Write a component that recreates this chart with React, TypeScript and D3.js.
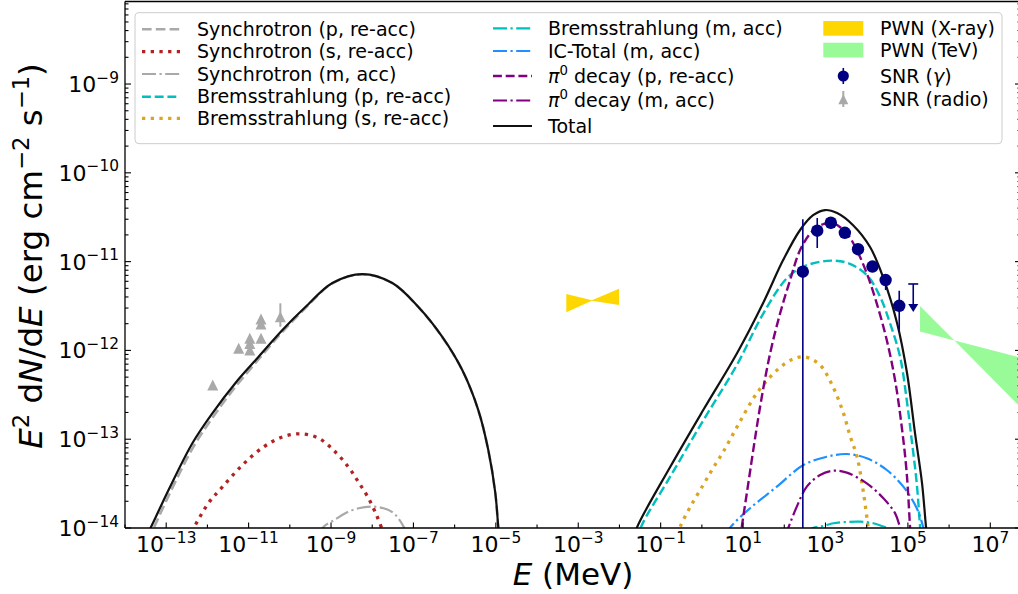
import React from "react";
import * as d3 from "d3";

type Pt = [number, number];

// ---------------- axis ticks ----------------
const xTickExps = [-13, -11, -9, -7, -5, -3, -1, 1, 3, 5, 7];
const xMinorExps = [-14, -12, -10, -8, -6, -4, -2, 0, 2, 4, 6];
const yTickExps = [-14, -13, -12, -11, -10, -9];

// ---------------- model curves: [E (MeV), E^2 dN/dE (erg cm^-2 s^-1)] ----------------
const syncP: Pt[] = [
  [2.55e-14, 5.4e-15], [4.16e-14, 8.4e-15], [1.14e-13, 2.3e-14], [4.35e-13, 7.9e-14],
  [1.33e-12, 1.75e-13], [4.8e-12, 3.9e-13], [1.73e-11, 7.9e-13], [6.62e-11, 1.62e-12],
  [2.39e-10, 3.0e-12], [1.08e-9, 5.7e-12], [5.77e-9, 7.2e-12], [3.08e-8, 5.72e-12],
  [1.32e-7, 3.07e-12], [5.02e-7, 1.41e-12], [1.53e-6, 6.0e-13], [3.75e-6, 2.12e-13],
  [6.56e-6, 7.5e-14], [9.7e-6, 2.45e-14], [1.15e-5, 9.8e-15], [1.25e-5, 6.4e-15],
];
const syncS: Pt[] = [
  [4.1e-13, 9.0e-15], [1.06e-12, 1.91e-14], [2.32e-12, 2.9e-14], [7.08e-12, 5.12e-14],
  [2.29e-11, 8.17e-14], [6.62e-11, 1.06e-13], [1.81e-10, 1.15e-13], [4.94e-10, 1.03e-13],
  [1.28e-9, 7.18e-14], [2.64e-9, 4.86e-14], [4.61e-9, 3.3e-14], [8.05e-9, 2.18e-14],
  [1.33e-8, 1.33e-14], [1.76e-8, 9.5e-15],
];
const syncM: Pt[] = [
  [5.22e-10, 8.55e-15], [6.64e-10, 1.035e-14], [1.28e-9, 1.25e-14], [2.23e-9, 1.47e-14],
  [4.69e-9, 1.67e-14], [9.91e-9, 1.74e-14], [1.89e-8, 1.67e-14], [3.31e-8, 1.47e-14],
  [5.79e-8, 1.035e-14], [6.73e-8, 8.55e-15],
];
const bremsP: Pt[] = [
  [2.7e-2, 7.33e-15], [3.51e-2, 1.08e-14], [0.17, 3.78e-14], [1.094, 1.64e-13],
  [7.06, 6.85e-13], [31.2, 2.62e-12], [115.3, 6.49e-12], [291, 8.77e-12],
  [1076, 1.02e-11], [3289, 9.73e-12], [10050, 7.06e-12], [21130, 4.03e-12],
  [36900, 2.02e-12], [64570, 8.49e-13], [93760, 2.76e-13], [123900, 9.79e-14],
  [164100, 3.18e-14], [197200, 1.035e-14], [208400, 7.33e-15],
];
const bremsS: Pt[] = [
  [0.266, 8.34e-15], [0.298, 1.03e-14], [0.52, 1.72e-14], [1.076, 3.05e-14],
  [1.879, 4.74e-14], [3.289, 7.18e-14], [7.59, 1.45e-13], [21.8, 3.31e-13],
  [67.0, 6.01e-13], [163.7, 8.0e-13], [319.9, 8.43e-13], [739.6, 6.85e-13],
  [1528, 3.87e-13], [2673, 2.02e-13], [3954, 1.09e-13], [5848, 6.31e-14],
  [8166, 2.68e-14], [10810, 1.03e-14], [11430, 8.34e-15],
];
const bremsM: Pt[] = [
  [319.9, 8.79e-15], [509.3, 1.007e-14], [889.2, 1.054e-14], [1556, 1.13e-14],
  [3289, 1.17e-14], [6902, 1.18e-14], [14520, 1.13e-14], [23230, 1.054e-14],
  [30690, 1.007e-14], [43650, 8.79e-15],
];
const icTotal: Pt[] = [
  [3.88, 8.34e-15], [4.85, 1.01e-14], [14.8, 1.67e-14], [65.9, 2.92e-14],
  [291, 5.12e-14], [1076, 6.35e-14], [3289, 6.81e-14], [10050, 6.1e-14],
  [30690, 4.5e-14], [77620, 2.92e-14], [164100, 1.67e-14], [237100, 1.01e-14],
  [260600, 8.34e-15],
];
const pi0P: Pt[] = [
  [8.49, 7.33e-15], [9.33, 1.035e-14], [12.33, 2.46e-14], [25.9, 2.32e-13],
  [45.4, 9.27e-13], [79.4, 2.62e-12], [138.7, 6.21e-12], [242, 1.35e-11],
  [466, 2.17e-11], [889, 2.65e-11], [1556, 2.7e-11], [3289, 2.08e-11],
  [5741, 1.35e-11], [10050, 7.38e-12], [17540, 3.39e-12], [30690, 1.31e-12],
  [48750, 4.65e-13], [70960, 1.38e-13], [93760, 4.13e-14], [112700, 1.035e-14],
  [119100, 7.33e-15],
];
const pi0M: Pt[] = [
  [104.7, 7.92e-15], [125.9, 1.01e-14], [201.4, 1.74e-14], [352.4, 2.92e-14],
  [739.6, 3.95e-14], [1556, 4.42e-14], [3289, 4.2e-14], [10050, 3.18e-14],
  [25410, 2.16e-14], [48750, 1.47e-14], [64570, 1.01e-14], [72110, 7.92e-15],
];
const totalLow: Pt[] = [
  [2.55e-14, 6.5e-15], [4.16e-14, 1.0e-14], [1.14e-13, 2.68e-14], [4.35e-13, 9.06e-14],
  [1.33e-12, 1.97e-13], [4.8e-12, 4.3e-13], [1.73e-11, 8.43e-13], [6.62e-11, 1.7e-12],
  [2.39e-10, 3.08e-12], [1.08e-9, 5.74e-12], [5.77e-9, 7.24e-12], [3.08e-8, 5.74e-12],
  [1.32e-7, 3.08e-12], [5.02e-7, 1.42e-12], [1.53e-6, 6.01e-13], [3.75e-6, 2.13e-13],
  [6.56e-6, 7.55e-14], [9.7e-6, 2.48e-14], [1.15e-5, 1.0e-14], [1.25e-5, 6.5e-15],
];
const totalHigh: Pt[] = [
  [2.16e-2, 7.33e-15], [2.7e-2, 1.03e-14], [0.17, 4.86e-14], [1.08, 2.13e-13],
  [7.18, 9.35e-13], [30.7, 3.42e-12], [93.8, 1.04e-11], [242, 2.27e-11],
  [501, 3.33e-11], [977, 3.81e-11], [1914, 3.52e-11], [4677, 2.57e-11],
  [12080, 1.46e-11], [24950, 6.7e-12], [54580, 2.04e-12], [95280, 5.56e-13],
  [148900, 1.17e-13], [220300, 3.21e-14], [275400, 1.03e-14], [299900, 7.33e-15],
];

// ---------------- PWN bow-ties ----------------
const pwnXrayE = [5.13e-4, 2.14e-3, 9.77e-3];
const pwnXrayHi = [4.32e-12, 3.67e-12, 4.95e-12];
const pwnXrayLo = [2.69e-12, 3.63e-12, 3.24e-12];
const pwnTevE = [1.97e5, 1.35e6, 1e8];
const pwnTevHi = [3.16e-12, 1.29e-12, 7.69e-13];
const pwnTevLo = [1.63e-12, 1.29e-12, 1.72e-13];

// ---------------- SNR data ----------------
const snrGammaE = [282, 631, 1349, 2951, 6166, 13800, 28840, 61660];
const snrGammaF = [7.7e-12, 2.23e-11, 2.74e-11, 2.11e-11, 1.38e-11, 8.8e-12, 6.2e-12, 3.18e-12];
const snrGammaLo = [1e-16, 1.42e-11, 2.35e-11, 1.85e-11, 1.22e-11, 7.7e-12, 4.79e-12, 1.63e-12];
const snrGammaHi = [3.0e-11, 3.1e-11, 3.15e-11, 2.4e-11, 1.55e-11, 9.9e-12, 7.24e-12, 4.7e-12];
const snrUlE = [134900];
const snrUlF = [5.6e-12];
const snrUlTo = [2.7e-12];

const radioE = [1.35e-12, 5.75e-12, 1.07e-11, 1.07e-11, 1.07e-11, 2.0e-11, 2.0e-11, 2.0e-11, 5.89e-11];
const radioF = [4.07e-13, 1.06e-12, 1.01e-12, 1.2e-12, 1.37e-12, 1.37e-12, 2.26e-12, 1.98e-12, 2.4e-12];
const radioLo = [4.07e-13, 1.06e-12, 1.01e-12, 1.2e-12, 1.37e-12, 1.37e-12, 2.26e-12, 1.98e-12, 1.85e-12];
const radioHi = [4.07e-13, 1.06e-12, 1.01e-12, 1.2e-12, 1.37e-12, 1.37e-12, 2.26e-12, 1.98e-12, 3.39e-12];

// ---------------- layout ----------------
const W = 1018;
const H = 594;
const L = 125;
const R = 1021;
const T = 1.5;
const B = 528;
const FONT = "DejaVu Sans, Liberation Sans, sans-serif";

const x = d3.scaleLog().domain([1e-14, 1e8]).range([L, 1031.5]);
const y = d3.scaleLog().domain([1e-14, 8.5e-9]).range([B, T]);

const lineGen = d3
  .line<Pt>()
  .x((d) => x(d[0]))
  .y((d) => y(d[1]))
  .curve(d3.curveCatmullRom.alpha(0.5));

type Style = { color: string; w: number; dash?: string };
const S_syncP: Style = { color: "#a9a9a9", w: 2.6, dash: "9.6 4.2" };
const S_syncS: Style = { color: "#b22222", w: 3.3, dash: "3.3 5.4" };
const S_syncM: Style = { color: "#a9a9a9", w: 2.2, dash: "14 3.5 2.2 3.5" };
const S_bremsP: Style = { color: "#00bfbf", w: 2.4, dash: "8.9 3.8" };
const S_bremsS: Style = { color: "#daa520", w: 3.3, dash: "3.3 5.4" };
const S_bremsM: Style = { color: "#00bfbf", w: 2.2, dash: "14 3.5 2.2 3.5" };
const S_ic: Style = { color: "#1e90ff", w: 2.2, dash: "14 3.5 2.2 3.5" };
const S_pi0P: Style = { color: "#800080", w: 2.4, dash: "8.9 3.8" };
const S_pi0M: Style = { color: "#800080", w: 2.2, dash: "14 3.5 2.2 3.5" };
const S_total: Style = { color: "#111111", w: 2.2 };

const curves: { data: Pt[]; s: Style }[] = [
  { data: syncP, s: S_syncP },
  { data: syncS, s: S_syncS },
  { data: syncM, s: S_syncM },
  { data: bremsP, s: S_bremsP },
  { data: bremsS, s: S_bremsS },
  { data: bremsM, s: S_bremsM },
  { data: icTotal, s: S_ic },
  { data: pi0P, s: S_pi0P },
  { data: pi0M, s: S_pi0M },
  { data: totalLow, s: S_total },
  { data: totalHigh, s: S_total },
];

function bowtie(E: number[], lo: number[], hi: number[]) {
  const rows = E.map((e, i) => ({ e, lo: lo[i], hi: hi[i] }));
  return d3
    .area<{ e: number; lo: number; hi: number }>()
    .x((d) => x(d.e))
    .y0((d) => y(d.lo))
    .y1((d) => y(d.hi))(rows) as string;
}

function tri(cx: number, cy: number, s: number) {
  const h = s / 2;
  return `M${cx},${cy - h}L${cx - h},${cy + h}L${cx + h},${cy + h}Z`;
}

const LegendLine = ({ s, x0, x1, yy }: { s: Style; x0: number; x1: number; yy: number }) => (
  <line x1={x0} x2={x1} y1={yy} y2={yy} stroke={s.color} strokeWidth={s.w} strokeDasharray={s.dash} />
);

function expLabel(e: number) {
  return e < 0 ? "\u2212" + Math.abs(e) : String(e);
}

export default function App() {
  const minorY: number[] = [];
  for (let e = -14; e < -8; e++)
    for (let k = 2; k <= 9; k++) {
      const v = k * Math.pow(10, e);
      if (v <= 8.5e-9) minorY.push(v);
    }
  const tickFS = 22;
  const supFS = 15.4;
  const legFS = 19;

  const col1 = [
    { s: S_syncP, label: "Synchrotron (p, re-acc)", cy: 29.3 },
    { s: S_syncS, label: "Synchrotron (s, re-acc)", cy: 51.7 },
    { s: S_syncM, label: "Synchrotron (m, acc)", cy: 74 },
    { s: S_bremsP, label: "Bremsstrahlung (p, re-acc)", cy: 96.7 },
    { s: S_bremsS, label: "Bremsstrahlung (s, re-acc)", cy: 118.3 },
  ];
  const col2 = [
    { s: S_bremsM, label: "Bremsstrahlung (m, acc)", cy: 28.3, pi: false },
    { s: S_ic, label: "IC-Total (m, acc)", cy: 51, pi: false },
    { s: S_pi0P, label: " decay (p, re-acc)", cy: 76, pi: true },
    { s: S_pi0M, label: " decay (m, acc)", cy: 100.5, pi: true },
    { s: S_total, label: "Total", cy: 126, pi: false },
  ];

  return (
    <div style={{ position: "absolute", left: 0, top: 0 }}>
      <svg width={W} height={H} viewBox={`0 0 ${W} ${H}`} style={{ display: "block", background: "#fff" }} fontFamily={FONT}>
        <defs>
          <clipPath id="plot">
            <rect x={L} y={T} width={R - L} height={B - T} />
          </clipPath>
        </defs>
        <rect x={0} y={0} width={W} height={H} fill="#fff" />

        <g clipPath="url(#plot)">
          <path d={bowtie(pwnXrayE, pwnXrayLo, pwnXrayHi)} fill="#ffd700" />
          <path d={bowtie(pwnTevE, pwnTevLo, pwnTevHi)} fill="#98fb98" />
          {curves.map((c, i) => (
            <path key={i} d={lineGen(c.data) as string} fill="none" stroke={c.s.color} strokeWidth={c.s.w} strokeDasharray={c.s.dash} />
          ))}
          {/* SNR radio */}
          {radioE.map((e, i) => (
            <g key={"r" + i}>
              {radioHi[i] !== radioLo[i] && (
                <line x1={x(e)} x2={x(e)} y1={y(radioLo[i])} y2={y(radioHi[i])} stroke="#a9a9a9" strokeWidth={2} />
              )}
              <path d={tri(x(e), y(radioF[i]), 11)} fill="#a9a9a9" />
            </g>
          ))}
          {/* SNR gamma */}
          {snrGammaE.map((e, i) => (
            <g key={"g" + i}>
              <line x1={x(e)} x2={x(e)} y1={y(snrGammaLo[i])} y2={y(snrGammaHi[i])} stroke="#000080" strokeWidth={1.6} />
              <circle cx={x(e)} cy={y(snrGammaF[i])} r={6.2} fill="#000080" />
            </g>
          ))}
          {snrUlE.map((e, i) => {
            const cx = x(e);
            const yc = y(snrUlF[i]);
            const yt = y(snrUlTo[i]);
            return (
              <g key={"ul" + i}>
                <line x1={cx - 5} x2={cx + 5} y1={yc} y2={yc} stroke="#000080" strokeWidth={1.6} />
                <line x1={cx} x2={cx} y1={yc} y2={yt - 6} stroke="#000080" strokeWidth={1.6} />
                <path d={`M${cx - 5},${yt - 8}L${cx + 5},${yt - 8}L${cx},${yt}Z`} fill="#000080" />
              </g>
            );
          })}
        </g>

        {/* spines */}
        <g stroke="#000" strokeWidth={1.3} fill="none">
          <line x1={L} x2={L} y1={T} y2={B} />
          <line x1={L} x2={R} y1={B} y2={B} />
          <line x1={L} x2={R} y1={T} y2={T} />
          <line x1={R} x2={R} y1={T} y2={B} />
        </g>

        {/* ticks */}
        <g stroke="#000" strokeWidth={1.1}>
          {xTickExps.map((e) => (
            <line key={"xt" + e} x1={x(Math.pow(10, e))} x2={x(Math.pow(10, e))} y1={B} y2={B - 5.5} />
          ))}
          {xMinorExps.map((e) => (
            <line key={"xm" + e} x1={x(Math.pow(10, e))} x2={x(Math.pow(10, e))} y1={B} y2={B - 3.5} />
          ))}
          {yTickExps.map((e) => (
            <g key={"yt" + e}>
              <line x1={L} x2={L + 6} y1={y(Math.pow(10, e))} y2={y(Math.pow(10, e))} />
              <line x1={R} x2={R - 6} y1={y(Math.pow(10, e))} y2={y(Math.pow(10, e))} />
            </g>
          ))}
          {minorY.map((v, i) => (
            <g key={"ym" + i}>
              <line x1={L} x2={L + 3.5} y1={y(v)} y2={y(v)} />
              <line x1={R} x2={R - 3.5} y1={y(v)} y2={y(v)} />
            </g>
          ))}
        </g>

        {/* x tick labels */}
        <g fontSize={tickFS} fill="#000" textAnchor="middle">
          {xTickExps.map((e) => (
            <text key={"xl" + e} x={x(Math.pow(10, e))} y={552}>
              10
              <tspan dy={-9.5} fontSize={supFS}>
                {expLabel(e)}
              </tspan>
            </text>
          ))}
        </g>

        {/* y tick labels */}
        <g fontSize={tickFS} fill="#000" textAnchor="end">
          {yTickExps.map((e) => (
            <text key={"yl" + e} x={119} y={y(Math.pow(10, e)) + 8}>
              10
              <tspan dy={-9.5} fontSize={supFS}>
                {expLabel(e)}
              </tspan>
            </text>
          ))}
        </g>

        {/* axis labels */}
        <text x={573} y={585} fontSize={31} textAnchor="middle" fill="#000">
          <tspan fontStyle="italic">E</tspan> (MeV)
        </text>
        <text transform="translate(42,256) rotate(-90)" fontSize={32.5} textAnchor="middle" fill="#000">
          <tspan fontStyle="italic">E</tspan>
          <tspan dy={-13.5} fontSize={22.7}>2</tspan>
          <tspan dy={13.5}> d</tspan>
          <tspan fontStyle="italic">N</tspan>
          <tspan>/d</tspan>
          <tspan fontStyle="italic">E</tspan>
          <tspan> (erg cm</tspan>
          <tspan dy={-13.5} fontSize={22.7}>{"\u22122"}</tspan>
          <tspan dy={13.5}> s</tspan>
          <tspan dy={-13.5} fontSize={22.7}>{"\u22121"}</tspan>
          <tspan dy={13.5}>)</tspan>
        </text>

        {/* legend */}
        <rect x={135} y={12.7} width={867} height={131} rx={4} ry={4} fill="#fff" fillOpacity={0.8} stroke="#cccccc" strokeWidth={1} />
        <g fontSize={legFS} fill="#000">
          {col1.map((r, i) => (
            <g key={"c1" + i}>
              <LegendLine s={r.s} x0={142} x1={180} yy={r.cy} />
              <text x={197} y={r.cy + 6.5}>{r.label}</text>
            </g>
          ))}
          {col2.map((r, i) => (
            <g key={"c2" + i}>
              <LegendLine s={r.s} x0={493} x1={532} yy={r.cy} />
              <text x={548} y={r.cy + 6.5}>
                {r.pi ? (
                  <>
                    <tspan fontStyle="italic">π</tspan>
                    <tspan dy={-8} fontSize={13.3}>0</tspan>
                    <tspan dy={8}>{r.label}</tspan>
                  </>
                ) : (
                  r.label
                )}
              </text>
            </g>
          ))}
          <rect x={823.3} y={21} width={40} height={14.7} fill="#ffd700" />
          <text x={880} y={28.3 + 6.5}>PWN (X-ray)</text>
          <rect x={823.3} y={42.7} width={40} height={14.7} fill="#98fb98" />
          <text x={880} y={50 + 6.5}>PWN (TeV)</text>
          <line x1={843.3} x2={843.3} y1={68} y2={84} stroke="#000080" strokeWidth={1.6} />
          <circle cx={843.3} cy={76} r={5.6} fill="#000080" />
          <text x={880} y={76 + 6.5}>
            SNR (<tspan fontStyle="italic">γ</tspan>)
          </text>
          <line x1={843.3} x2={843.3} y1={91} y2={107} stroke="#a9a9a9" strokeWidth={2} />
          <path d={tri(843.3, 99.3, 10)} fill="#a9a9a9" />
          <text x={880} y={99.3 + 6.5}>SNR (radio)</text>
        </g>
      </svg>
    </div>
  );
}
